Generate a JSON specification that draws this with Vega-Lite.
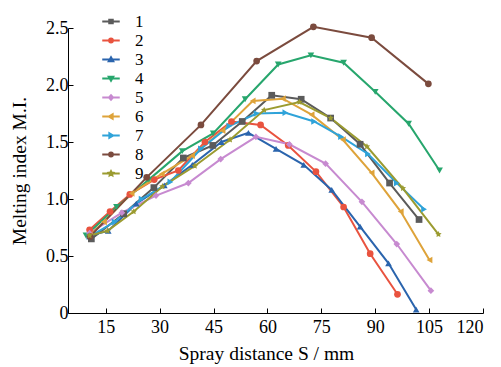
{
  "$schema": "https://vega.github.io/schema/vega-lite/v6.json",
  "width": 415,
  "height": 285,
  "autosize": {"type": "none"},
  "padding": {"left": 68, "top": 28, "right": 18, "bottom": 54},
  "background": "white",
  "config": {
    "view": {"stroke": null},
    "font": "Liberation Serif",
    "axis": {
      "grid": false,
      "domainColor": "black",
      "tickColor": "black",
      "domainWidth": 1,
      "tickWidth": 1,
      "labelColor": "black",
      "titleColor": "black",
      "labelFont": "Liberation Serif",
      "titleFont": "Liberation Serif",
      "labelFontSize": 18,
      "titleFontSize": 19.5,
      "titleFontWeight": "normal"
    },
    "legend": {
      "labelFont": "Liberation Serif",
      "labelFontSize": 17,
      "labelColor": "black"
    }
  },
  "data": {
    "values": [
      {"s": "1", "x": 11, "y": 0.65}, {"s": "1", "x": 20, "y": 0.87}, {"s": "1", "x": 28.4, "y": 1.1}, {"s": "1", "x": 36.6, "y": 1.36}, {"s": "1", "x": 44.8, "y": 1.47}, {"s": "1", "x": 53, "y": 1.68}, {"s": "1", "x": 61.2, "y": 1.91}, {"s": "1", "x": 69.4, "y": 1.875}, {"s": "1", "x": 77.6, "y": 1.71}, {"s": "1", "x": 85.8, "y": 1.48}, {"s": "1", "x": 94, "y": 1.14}, {"s": "1", "x": 102.2, "y": 0.82},
      {"s": "2", "x": 10.5, "y": 0.73}, {"s": "2", "x": 16.2, "y": 0.89}, {"s": "2", "x": 21.7, "y": 1.04}, {"s": "2", "x": 28.5, "y": 1.17}, {"s": "2", "x": 35.2, "y": 1.25}, {"s": "2", "x": 42.6, "y": 1.5}, {"s": "2", "x": 50, "y": 1.68}, {"s": "2", "x": 58.1, "y": 1.65}, {"s": "2", "x": 65.8, "y": 1.47}, {"s": "2", "x": 73.5, "y": 1.24}, {"s": "2", "x": 81.2, "y": 0.93}, {"s": "2", "x": 88.6, "y": 0.52}, {"s": "2", "x": 96.2, "y": 0.164},
      {"s": "3", "x": 10.5, "y": 0.68}, {"s": "3", "x": 15.7, "y": 0.72}, {"s": "3", "x": 23.5, "y": 0.96}, {"s": "3", "x": 31.3, "y": 1.12}, {"s": "3", "x": 39.1, "y": 1.3}, {"s": "3", "x": 47.2, "y": 1.5}, {"s": "3", "x": 54.7, "y": 1.58}, {"s": "3", "x": 62.4, "y": 1.44}, {"s": "3", "x": 70.1, "y": 1.3}, {"s": "3", "x": 77.9, "y": 1.08}, {"s": "3", "x": 85.8, "y": 0.757}, {"s": "3", "x": 93.7, "y": 0.436}, {"s": "3", "x": 101.4, "y": 0.03},
      {"s": "4", "x": 9.5, "y": 0.68}, {"s": "4", "x": 18, "y": 0.93}, {"s": "4", "x": 27, "y": 1.17}, {"s": "4", "x": 36.3, "y": 1.42}, {"s": "4", "x": 44.9, "y": 1.576}, {"s": "4", "x": 53.8, "y": 1.875}, {"s": "4", "x": 63, "y": 2.18}, {"s": "4", "x": 72.1, "y": 2.26}, {"s": "4", "x": 81.2, "y": 2.195}, {"s": "4", "x": 90, "y": 1.94}, {"s": "4", "x": 99.3, "y": 1.66}, {"s": "4", "x": 107.9, "y": 1.25},
      {"s": "5", "x": 10.5, "y": 0.7}, {"s": "5", "x": 19.5, "y": 0.88}, {"s": "5", "x": 29, "y": 1.03}, {"s": "5", "x": 38, "y": 1.14}, {"s": "5", "x": 47, "y": 1.35}, {"s": "5", "x": 56.8, "y": 1.545}, {"s": "5", "x": 66.1, "y": 1.48}, {"s": "5", "x": 76.2, "y": 1.31}, {"s": "5", "x": 86.3, "y": 0.975}, {"s": "5", "x": 96, "y": 0.605}, {"s": "5", "x": 105.5, "y": 0.196},
      {"s": "6", "x": 10.5, "y": 0.68}, {"s": "6", "x": 14.5, "y": 0.8}, {"s": "6", "x": 22.2, "y": 1.05}, {"s": "6", "x": 30.6, "y": 1.22}, {"s": "6", "x": 39, "y": 1.38}, {"s": "6", "x": 47.5, "y": 1.6}, {"s": "6", "x": 55.9, "y": 1.86}, {"s": "6", "x": 64.3, "y": 1.88}, {"s": "6", "x": 72.3, "y": 1.74}, {"s": "6", "x": 81, "y": 1.52}, {"s": "6", "x": 89, "y": 1.23}, {"s": "6", "x": 97.1, "y": 0.89}, {"s": "6", "x": 105.1, "y": 0.465},
      {"s": "7", "x": 10.5, "y": 0.67}, {"s": "7", "x": 17.5, "y": 0.8}, {"s": "7", "x": 25, "y": 1.0}, {"s": "7", "x": 33, "y": 1.15}, {"s": "7", "x": 41.5, "y": 1.44}, {"s": "7", "x": 49.4, "y": 1.64}, {"s": "7", "x": 57, "y": 1.75}, {"s": "7", "x": 65, "y": 1.757}, {"s": "7", "x": 73, "y": 1.68}, {"s": "7", "x": 80.5, "y": 1.547}, {"s": "7", "x": 88, "y": 1.395}, {"s": "7", "x": 96, "y": 1.14}, {"s": "7", "x": 103.6, "y": 0.91},
      {"s": "8", "x": 10.6, "y": 0.67}, {"s": "8", "x": 26.4, "y": 1.19}, {"s": "8", "x": 41.5, "y": 1.65}, {"s": "8", "x": 57, "y": 2.21}, {"s": "8", "x": 72.8, "y": 2.51}, {"s": "8", "x": 89, "y": 2.415}, {"s": "8", "x": 104.8, "y": 2.01},
      {"s": "9", "x": 10.5, "y": 0.68}, {"s": "9", "x": 15.5, "y": 0.72}, {"s": "9", "x": 22.8, "y": 0.89}, {"s": "9", "x": 30.8, "y": 1.11}, {"s": "9", "x": 39.8, "y": 1.29}, {"s": "9", "x": 49.6, "y": 1.52}, {"s": "9", "x": 59.1, "y": 1.78}, {"s": "9", "x": 68.9, "y": 1.85}, {"s": "9", "x": 77.6, "y": 1.71}, {"s": "9", "x": 87.7, "y": 1.46}, {"s": "9", "x": 97.7, "y": 1.094}, {"s": "9", "x": 107.6, "y": 0.69}
    ]
  },
  "encoding": {
    "x": {
      "field": "x", "type": "quantitative",
      "scale": {"domain": [4.5, 120], "nice": false, "zero": false},
      "axis": {"values": [15, 30, 45, 60, 75, 90, 105, 120], "tickSize": -5, "labelPadding": 10, "title": "Spray distance S / mm", "titlePadding": 8, "titleX": 198}
    },
    "y": {
      "field": "y", "type": "quantitative",
      "scale": {"domain": [0, 2.5], "nice": false},
      "axis": {"values": [0, 0.5, 1, 1.5, 2, 2.5], "labelExpr": "datum.value == 0 ? '0' : format(datum.value, '.1f')", "tickSize": -5, "labelPadding": 5, "title": "Melting index M.I.", "titlePadding": 16}
    },
    "color": {
      "field": "s", "type": "nominal",
      "scale": {"domain": ["1","2","3","4","5","6","7","8","9"], "range": ["#5b5b5b","#e9533f","#2a64ad","#27a66d","#c78ad0","#dea33a","#2fa3d9","#7b4b3e","#9b9b30"]},
      "legend": {
        "orient": "none", "legendX": 34.5, "legendY": -15, "title": null, "padding": 0,
        "symbolSize": 100, "symbolStrokeWidth": 2, "labelOffset": 15.5, "rowPadding": 1,
        "encode": {
          "symbols": {
            "update": {
              "shape": {"signal": "['M-1.75,0H1.75M-0.35,-0.35H0.35V0.35H-0.35Z','M-1.75,0H1.75M-0.38,0A0.38,0.38 0 1,0 0.38,0A0.38,0.38 0 1,0 -0.38,0Z','M-1.75,0H1.75M0,-0.45L0.45,0.33L-0.45,0.33Z','M-1.75,0H1.75M0,0.45L0.45,-0.33L-0.45,-0.33Z','M-1.75,0H1.75M0,-0.45L0.4,0L0,0.45L-0.4,0Z','M-1.75,0H1.75M-0.45,0L0.33,-0.45L0.33,0.45Z','M-1.75,0H1.75M0.45,0L-0.33,-0.45L-0.33,0.45Z','M-1.75,0H1.75M-0.38,0A0.38,0.38 0 1,0 0.38,0A0.38,0.38 0 1,0 -0.38,0Z','M-1.75,0H1.75M0,-0.46L0.13,-0.19L0.44,-0.14L0.22,0.08L0.27,0.37L0,0.23L-0.27,0.37L-0.22,0.08L-0.44,-0.14L-0.13,-0.19Z'][toNumber(datum.value) - 1]"},
              "stroke": {"signal": "scale('color', datum.value)"},
              "fill": {"signal": "scale('color', datum.value)"},
              "strokeWidth": {"value": 2},
              "opacity": {"value": 1}
            }
          }
        }
      }
    }
  },
  "layer": [
    {
      "mark": {"type": "line", "strokeWidth": 2},
      "encoding": {"detail": {"field": "s"}, "order": {"field": "x"}}
    },
    {
      "mark": {"type": "point", "filled": true, "size": 45, "opacity": 1},
      "encoding": {
        "shape": {
          "field": "s", "type": "nominal",
          "scale": {"domain": ["9","8","7","6","5","4","3","2","1"], "range": ["M0,-1L0.294,-0.405L0.951,-0.309L0.476,0.155L0.588,0.809L0,0.5L-0.588,0.809L-0.476,0.155L-0.951,-0.309L-0.294,-0.405Z","circle","triangle-right","triangle-left","diamond","triangle-down","triangle-up","circle","square"]},
          "legend": null
        }
      }
    }
  ]
}
